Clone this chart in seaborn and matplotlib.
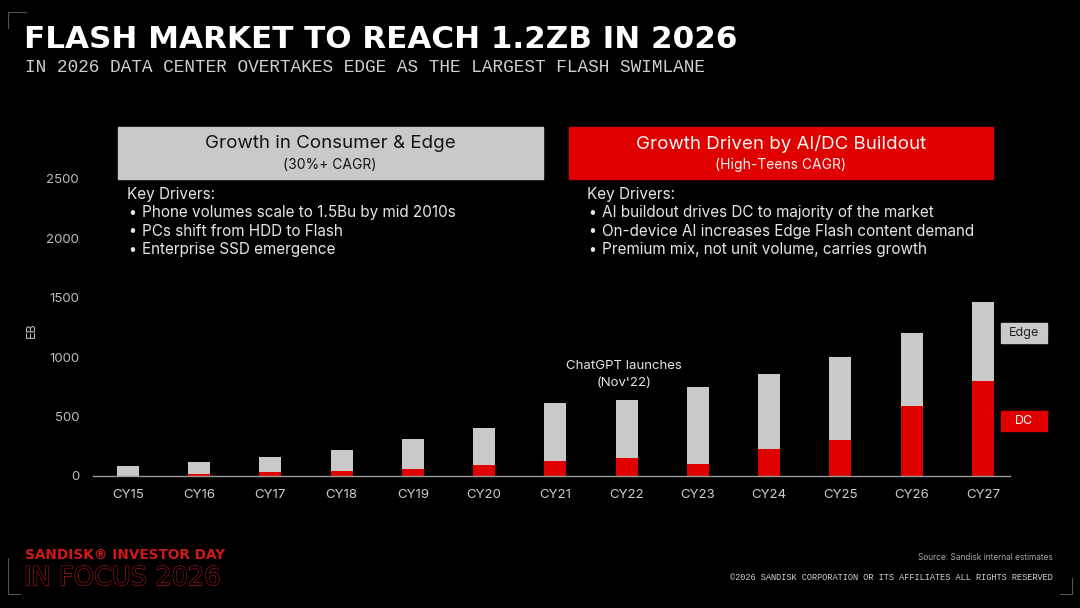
import numpy as np
import pandas as pd
import matplotlib
matplotlib.use("Agg")
import matplotlib.pyplot as plt
import matplotlib.patheffects as pe
from matplotlib.patches import Rectangle
import seaborn as sns

# data (EB)
years = ['CY15', 'CY16', 'CY17', 'CY18', 'CY19', 'CY20', 'CY21',
         'CY22', 'CY23', 'CY24', 'CY25', 'CY26', 'CY27']
total_eb = [84, 118, 160, 216, 309, 404, 615, 640, 749, 859, 1002, 1201, 1468]
dc_eb = [3, 20, 30, 45, 59, 95, 125, 152, 104, 227, 300, 587, 800]
y_ticks = [0, 500, 1000, 1500, 2000, 2500]

left_drivers = ['Phone volumes scale to 1.5Bu by mid 2010s',
                'PCs shift from HDD to Flash',
                'Enterprise SSD emergence']
right_drivers = ['AI buildout drives DC to majority of the market',
                 'On-device AI increases Edge Flash content demand',
                 'Premium mix, not unit volume, carries growth']

df = pd.DataFrame({'year': years, 'total': total_eb, 'dc': dc_eb})

GRAY = '#c9c9c9'
RED = '#e00000'
TXT = '#e6e6e6'

sns.set_theme(style='dark')
plt.rcParams['font.family'] = ['Inter', 'DejaVu Sans']

W, H = 1080, 608
fig = plt.figure(figsize=(10.8, 6.08), dpi=100, facecolor='black')

def fx(x):
    return x / W

def fy(y):
    return 1 - y / H

ax = fig.add_axes([fx(93), fy(476), 917 / W, 309 / H])
ax.set_facecolor('black')

sns.barplot(data=df, x='year', y='total', color=GRAY, width=0.31,
            saturation=1, linewidth=0, edgecolor='none', ax=ax)
sns.barplot(data=df, x='year', y='dc', color=RED, width=0.31,
            saturation=1, linewidth=0, edgecolor='none', ax=ax)

ax.set_xlim(-0.49, 12.38)
ax.set_ylim(0, 2600)
ax.set_yticks(y_ticks)
ax.set_yticklabels([str(t) for t in y_ticks])
ax.tick_params(axis='y', length=0, pad=10, labelsize=9.5, labelcolor='#bdbdbd')
ax.tick_params(axis='x', length=0, pad=9, labelsize=9.5, labelcolor='#cfcfcf')
ax.set_xlabel('')
ax.set_ylabel('')
ax.grid(False)
for s in ['top', 'right', 'left']:
    ax.spines[s].set_visible(False)
ax.spines['bottom'].set_color('#9a9a9a')
ax.spines['bottom'].set_linewidth(1)

fig.text(fx(32), fy(330), 'EB', rotation=90, ha='center', va='center',
         color='#bdbdbd', fontsize=9)

# title block
fig.text(fx(24), fy(40), 'FLASH MARKET TO REACH 1.2ZB IN 2026',
         family='DejaVu Sans', weight='bold', fontsize=22.3, color='white',
         ha='left', va='center')
fig.text(fx(25), fy(68),
         'IN 2026 DATA CENTER OVERTAKES EDGE AS THE LARGEST FLASH SWIMLANE',
         family='Liberation Mono', fontsize=12.8, color='#cfcfcf',
         ha='left', va='center')

# header boxes
fig.patches.append(Rectangle((fx(118), fy(179)), 425 / W, 52 / H,
                             transform=fig.transFigure, color=GRAY, zorder=0))
fig.patches.append(Rectangle((fx(569), fy(179)), 424 / W, 52 / H,
                             transform=fig.transFigure, color=RED, zorder=0))
fig.text(fx(330), fy(144), 'Growth in Consumer & Edge', fontsize=13.5,
         color='#151515', ha='center', va='center')
fig.text(fx(330), fy(165), '(30%+ CAGR)', fontsize=10, color='#151515',
         ha='center', va='center')
fig.text(fx(781), fy(144), 'Growth Driven by AI/DC Buildout', fontsize=13.5,
         color='#f4f4f4', ha='center', va='center')
fig.text(fx(781), fy(165), '(High-Teens CAGR)', fontsize=10, color='#f4f4f4',
         ha='center', va='center')

# key drivers
for x0, items in [(127, left_drivers), (587, right_drivers)]:
    fig.text(fx(x0), fy(194), 'Key Drivers:', fontsize=11, color=TXT,
             ha='left', va='center')
    for i, item in enumerate(items):
        yy = 213 + i * 18.5
        fig.text(fx(x0 + 1), fy(yy), '•', fontsize=10, color=TXT,
                 ha='left', va='center')
        fig.text(fx(x0 + 15), fy(yy), item, fontsize=11, color=TXT,
                 ha='left', va='center')

# annotation
fig.text(fx(624), fy(366), 'ChatGPT launches', fontsize=9.5, color=TXT,
         ha='center', va='center')
fig.text(fx(624), fy(383), "(Nov'22)", fontsize=9.5, color=TXT,
         ha='center', va='center')

# legend boxes
fig.patches.append(Rectangle((fx(1001), fy(343)), 46 / W, 20 / H,
                             transform=fig.transFigure, color=GRAY, zorder=0))
fig.patches.append(Rectangle((fx(1001), fy(431)), 46 / W, 20 / H,
                             transform=fig.transFigure, color=RED, zorder=0))
fig.text(fx(1024), fy(333), 'Edge', fontsize=9, color='#222222',
         ha='center', va='center')
fig.text(fx(1024), fy(421), 'DC', fontsize=9, color='white',
         ha='center', va='center')

# footer
fig.text(fx(25), fy(555), 'SANDISK\u00ae INVESTOR DAY', family='DejaVu Sans',
         weight='bold', fontsize=9.8, color='#d01818', ha='left', va='center')
t = fig.text(fx(24), fy(578), 'IN FOCUS 2026', family='DejaVu Sans',
             fontsize=18.5, color='black', ha='left', va='center')
t.set_path_effects([pe.withStroke(linewidth=0.9, foreground='#c81818'),
                    pe.Normal()])
fig.text(fx(1053), fy(558), 'Source: Sandisk internal estimates',
         fontsize=6, color='#a8a8a8', ha='right', va='center')
fig.text(fx(1053), fy(578),
         '\u00a92026 SANDISK CORPORATION OR ITS AFFILIATES ALL RIGHTS RESERVED',
         family='Liberation Mono', fontsize=6.2, color='#d0d0d0',
         ha='right', va='center')

# corner brackets
line_kw = dict(color='#555555', lw=0.8, transform=fig.transFigure)
fig.add_artist(plt.Line2D([fx(8), fx(26)], [fy(12), fy(12)], **line_kw))
fig.add_artist(plt.Line2D([fx(8), fx(8)], [fy(12), fy(28)], **line_kw))
fig.add_artist(plt.Line2D([fx(8), fx(8)], [fy(558), fy(594)], **line_kw))
fig.add_artist(plt.Line2D([fx(8), fx(20)], [fy(594), fy(594)], **line_kw))
fig.add_artist(plt.Line2D([fx(1072), fx(1072)], [fy(578), fy(594)], **line_kw))
fig.add_artist(plt.Line2D([fx(1060), fx(1072)], [fy(594), fy(594)], **line_kw))

fig.savefig('out.png', dpi=100, facecolor='black')
